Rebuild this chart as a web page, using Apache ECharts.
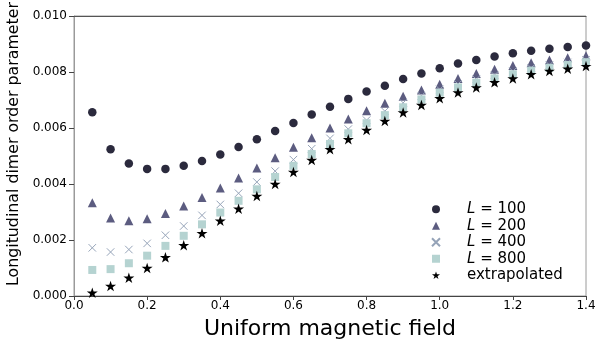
<!DOCTYPE html>
<html>
<head>
<meta charset="utf-8">
<script src="https://cdn.jsdelivr.net/npm/echarts@6/dist/echarts.min.js"></script>
<style>
  html, body { margin: 0; padding: 0; background: #fff; }
  #chart { width: 598px; height: 349px; }
</style>
</head>
<body>
<div id="chart"></div>
<script>
// 磁场取值
var fields = [0.05, 0.10, 0.15, 0.20, 0.25, 0.30, 0.35, 0.40, 0.45, 0.50, 0.55, 0.60, 0.65, 0.70,
  0.75, 0.80, 0.85, 0.90, 0.95, 1.00, 1.05, 1.10, 1.15, 1.20, 1.25, 1.30, 1.35, 1.40];

var yTicks = [0.000, 0.002, 0.004, 0.006, 0.008, 0.010];
var xTicks = [0.0, 0.2, 0.4, 0.6, 0.8, 1.0, 1.2, 1.4];

var seriesNames = ["L = 100", "L = 200", "L = 400", "L = 800", "extrapolated"];

var valsL100 = [0.00656, 0.00524, 0.00473, 0.00454, 0.00454, 0.00465, 0.00482, 0.00505, 0.00532, 0.00560,
  0.00589, 0.00618, 0.00648, 0.00676, 0.00704, 0.00730, 0.00751, 0.00775, 0.00795, 0.00813,
  0.00830, 0.00843, 0.00855, 0.00867, 0.00876, 0.00883, 0.00889, 0.00895];
var valsL200 = [0.00333, 0.00279, 0.00269, 0.00276, 0.00295, 0.00321, 0.00352, 0.00386, 0.00421, 0.00457,
  0.00494, 0.00531, 0.00565, 0.00600, 0.00632, 0.00662, 0.00688, 0.00713, 0.00736, 0.00756,
  0.00777, 0.00795, 0.00810, 0.00823, 0.00833, 0.00843, 0.00851, 0.00858];
var valsL400 = [0.00172, 0.00157, 0.00166, 0.00188, 0.00217, 0.00250, 0.00288, 0.00327, 0.00367, 0.00407,
  0.00446, 0.00487, 0.00526, 0.00563, 0.00596, 0.00628, 0.00660, 0.00690, 0.00715, 0.00738,
  0.00757, 0.00774, 0.00789, 0.00803, 0.00815, 0.00825, 0.00834, 0.00843];
var valsL800 = [0.00093, 0.00096, 0.00117, 0.00144, 0.00179, 0.00215, 0.00256, 0.00298, 0.00340, 0.00381,
  0.00425, 0.00465, 0.00507, 0.00543, 0.00581, 0.00617, 0.00646, 0.00674, 0.00702, 0.00726,
  0.00745, 0.00762, 0.00777, 0.00792, 0.00805, 0.00815, 0.00825, 0.00835];
var valsExtrap = [0.00012, 0.00036, 0.00065, 0.00100, 0.00138, 0.00181, 0.00224, 0.00269, 0.00312, 0.00357,
  0.00400, 0.00443, 0.00486, 0.00524, 0.00560, 0.00593, 0.00625, 0.00655, 0.00682, 0.00706,
  0.00727, 0.00745, 0.00763, 0.00777, 0.00792, 0.00804, 0.00812, 0.00821];

(function () {
  var myChart = echarts.init(document.getElementById("chart"), null, { renderer: "canvas" });

  function pairs(vals) {
    return fields.map(function (x, i) { return [x, vals[i]]; });
  }

  var starPath = "path://M100,0L122.45,69.1L195.1,69.1L136.3,111.8L158.8,180.9L100,138.2L41.2,180.9L63.7,111.8L4.9,69.1L77.55,69.1Z";
  var crossPath = "path://M0,0L10,10M10,0L0,10";

  var font = "DejaVu Sans";

  var option = {
    animation: false,
    textStyle: { fontFamily: font },
    grid: {
      left: 74, right: 12, top: 16, bottom: 53,
      outerBoundsMode: "none",
      containLabel: false,
      show: true, borderColor: "#9a9a9a", borderWidth: 1,
    },
    legend: {
      orient: "vertical",
      left: 426,
      top: 196,
      itemGap: 0,
      itemWidth: 8,
      itemHeight: 8,
      textStyle: {
        fontFamily: font,
        fontSize: 15,
        lineHeight: 16.5,
        color: "#000",
        padding: [0, 0, 0, 22],
        rich: {
          i: { fontStyle: "italic", fontSize: 15, lineHeight: 16.5, fontFamily: font, color: "#000" },
          n: { fontSize: 15, lineHeight: 16.5, fontFamily: font, color: "#000" },
        },
      },
      formatter: function (name) {
        if (name.indexOf("L = ") === 0) {
          return "{i|L}{n| = " + name.slice(4) + "}";
        }
        return "{n|" + name + "}";
      },
      data: seriesNames,
    },
    xAxis: [
      {
        type: "value",
        min: 0, max: 1.4, interval: 0.2,
        name: "Uniform magnetic field",
        nameLocation: "middle",
        nameGap: 22,
        nameTextStyle: { fontSize: 22, color: "#000", fontFamily: font },
        axisLine: { show: true, lineStyle: { color: "#444", width: 1 } },
        axisTick: { show: true, length: 4, lineStyle: { color: "#444" } },
        axisLabel: {
          color: "#000", fontSize: 12, margin: 4,
          formatter: function (v) { return v.toFixed(1); },
        },
        splitLine: { show: false },
      },
      {
        type: "value", position: "top",
        min: 0, max: 1.4,
        axisLine: { show: true, lineStyle: { color: "#555", width: 1 } },
        axisTick: { show: false },
        axisLabel: { show: false },
        splitLine: { show: false },
      },
    ],
    yAxis: {
      type: "value",
      min: 0, max: 0.01, interval: 0.002,
      name: "Longitudinal dimer order parameter",
      nameLocation: "middle",
      nameRotate: 90,
      nameGap: 34,
      nameTextStyle: { fontSize: 15.8, color: "#000", fontFamily: font, padding: [0, 0, 0, 24] },
      axisLine: { show: true, lineStyle: { color: "#9a9a9a", width: 1 } },
      axisTick: { show: true, length: 5, lineStyle: { color: "#444" } },
      axisLabel: {
        color: "#000", fontSize: 12, margin: 7,
        formatter: function (v) { return v.toFixed(3); },
      },
      splitLine: { show: false },
    },
    series: [
      {
        name: seriesNames[0], type: "scatter", symbol: "circle", symbolSize: 8.5,
        itemStyle: { color: "#2b2a3d", opacity: 1 },
        data: pairs(valsL100),
      },
      {
        name: seriesNames[1], type: "scatter", symbol: "triangle", symbolSize: 9,
        itemStyle: { color: "#5c5c80", opacity: 1 },
        data: pairs(valsL200),
      },
      {
        name: seriesNames[2], type: "scatter", symbol: crossPath, symbolSize: 7.5,
        itemStyle: { color: "transparent", borderColor: "#95a3b8", borderWidth: 1, opacity: 1 },
        data: pairs(valsL400),
      },
      {
        name: seriesNames[3], type: "scatter", symbol: "rect", symbolSize: 8,
        itemStyle: { color: "#b5d3d1", opacity: 1 },
        data: pairs(valsL800),
      },
      {
        name: seriesNames[4], type: "scatter", symbol: starPath, symbolSize: [11, 10.5],
        itemStyle: { color: "#000", opacity: 1 },
        data: pairs(valsExtrap),
      },
    ],
  };

  myChart.setOption(option);
  window.addEventListener("resize", function () {
    myChart.resize();
  });
})();
</script>
</body>
</html>
